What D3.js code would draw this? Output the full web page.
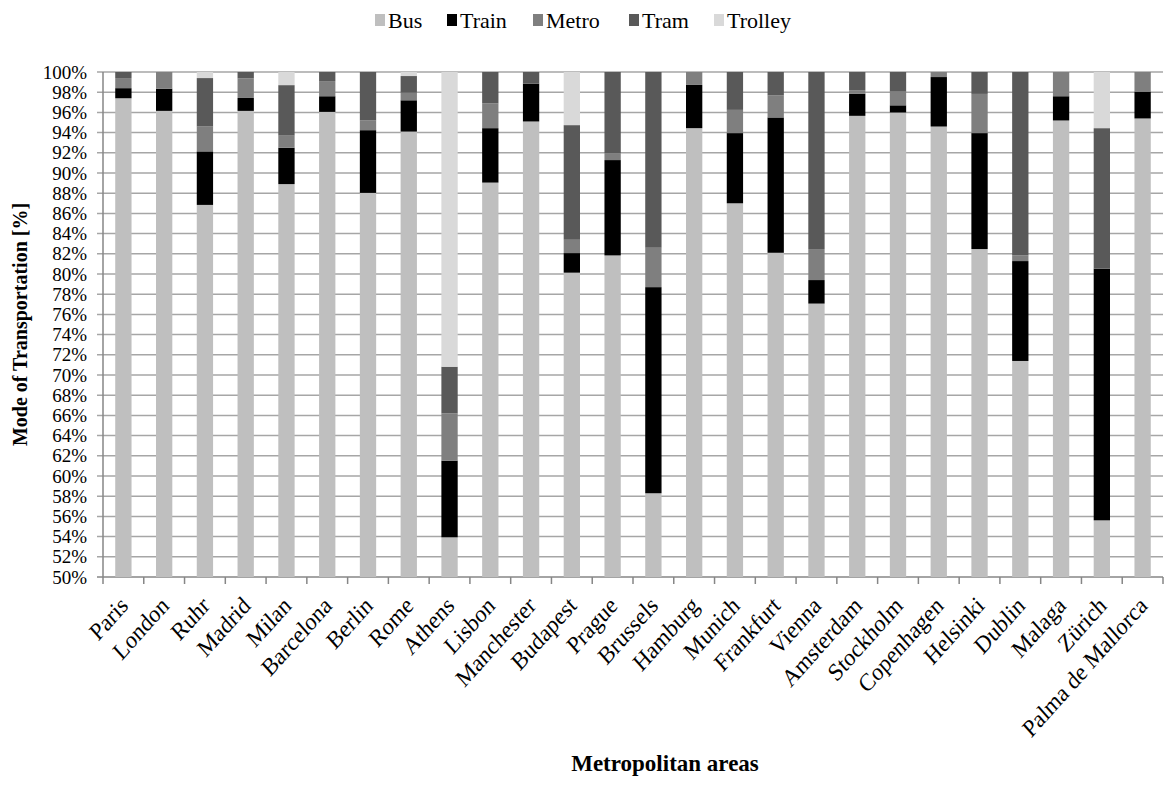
<!DOCTYPE html>
<html><head><meta charset="utf-8">
<script src="https://cdn.jsdelivr.net/npm/d3@7"></script>
<style>body{margin:0;background:#fff}text{font-family:"Liberation Serif","Times New Roman",serif;fill:#000}</style>
</head><body><svg id="c" width="1164" height="803"></svg>
<script>
const cities=["Paris","London","Ruhr","Madrid","Milan","Barcelona","Berlin","Rome","Athens","Lisbon","Manchester","Budapest","Prague","Brussels","Hamburg","Munich","Frankfurt","Vienna","Amsterdam","Stockholm","Copenhagen","Helsinki","Dublin","Malaga","Zürich","Palma de Mallorca"];
const bus    =[97.4,96.15,86.84,96.15,88.9,96.05,88.03,94.1,53.93,89.05,95.1,80.13,81.84,58.29,94.44,87.0,82.1,77.07,95.66,95.99,94.6,82.47,71.39,95.2,55.61,95.4];
const train  =[1.0,2.2,5.3,1.28,3.6,1.55,6.21,3.1,7.59,5.39,3.75,1.94,9.44,20.41,4.28,6.95,13.4,2.33,2.2,0.71,4.9,11.48,9.89,2.4,24.92,2.66];
const metro  =[1.0,1.65,2.46,1.94,1.2,1.5,0.96,0.75,4.68,2.46,0,1.32,0.69,3.9,1.28,2.3,2.2,3.07,0.34,1.36,0.5,3.88,0.56,2.4,0,1.94];
const tram   =[0.6,0,4.8,0.63,5.0,0.9,4.8,1.65,4.62,3.1,1.15,11.35,8.03,17.4,0,3.75,2.3,17.53,1.8,1.94,0,2.17,18.16,0,13.91,0];
const trolley=[0,0,0.6,0,1.3,0,0,0.4,29.18,0,0,5.26,0,0,0,0,0,0,0,0,0,0,0,0,5.56,0];
const modes=["Bus","Train","Metro","Tram","Trolley"];
const colors=["#bfbfbf","#000000","#7f7f7f","#595959","#d9d9d9"];
const yTicks=d3.range(50,100.01,2);

const series=[bus,train,metro,tram,trolley];
const rows=cities.map((c,i)=>{const r={city:c};modes.forEach((m,k)=>r[m]=series[k][i]);return r;});
const stack=d3.stack().keys(modes)(rows);

const svg=d3.select("#c");
const L=103,R=1163,T=72,B=577;
const x=d3.scaleBand().domain(cities).range([L,R]).paddingInner(0.6).paddingOuter(0.3);
const y=d3.scaleLinear().domain([50,100]).range([B,T]).clamp(true);
const color=d3.scaleOrdinal().domain(modes).range(colors);

// gridlines
svg.append("g").selectAll("line").data(yTicks).join("line")
  .attr("x1",L-6).attr("x2",R).attr("y1",d=>y(d)).attr("y2",d=>y(d))
  .attr("stroke",d=>d===50?"#868686":"#a6a6a6").attr("stroke-width",1.5);

// y labels
svg.append("g").selectAll("text").data(yTicks).join("text")
  .attr("x",L-16).attr("y",d=>y(d)).attr("dy","0.35em").attr("text-anchor","end")
  .style("font-size","19px").text(d=>d+"%");

// y axis line
svg.append("line").attr("x1",L).attr("x2",L).attr("y1",T).attr("y2",B).attr("stroke","#868686").attr("stroke-width",1.5);

// bars
svg.append("g").selectAll("g").data(stack).join("g").attr("fill",d=>color(d.key))
  .selectAll("rect").data(d=>d).join("rect")
  .attr("x",d=>x(d.data.city)).attr("width",x.bandwidth())
  .attr("y",d=>y(d[1])).attr("height",d=>Math.max(0,y(d[0])-y(d[1])));

// x ticks at category boundaries
const step=x.step();
const xt=d3.range(cities.length+1).map(i=>L+i*step);
svg.append("g").selectAll("line").data(xt).join("line")
  .attr("x1",d=>d).attr("x2",d=>d).attr("y1",B).attr("y2",B+7)
  .attr("stroke","#868686").attr("stroke-width",1.5);

// x labels
svg.append("g").selectAll("text").data(cities).join("text")
  .attr("transform",d=>`translate(${x(d)+x.bandwidth()/2+6},${B+30}) scale(1,1.12) rotate(-45)`)
  .attr("text-anchor","end").style("font-size","22px").text(d=>d);

// axis titles
svg.append("text").attr("transform",`translate(27,${(T+B)/2}) rotate(-90)`)
  .attr("text-anchor","middle").style("font-size","20px").style("font-weight","bold")
  .text("Mode of Transportation [%]");
svg.append("text").attr("x",665).attr("y",771).attr("text-anchor","middle")
  .style("font-size","23px").style("font-weight","bold").text("Metropolitan areas");

// legend
const legX=[375,447,533,629,714];
const lg=svg.append("g").selectAll("g").data(modes).join("g")
  .attr("transform",(d,i)=>`translate(${legX[i]},20)`);
lg.append("rect").attr("x",0).attr("y",-6).attr("width",10).attr("height",12).attr("fill",d=>color(d));
lg.append("text").attr("x",13).attr("y",0).attr("dy","0.35em").style("font-size","22px").text(d=>d);
</script></body></html>
